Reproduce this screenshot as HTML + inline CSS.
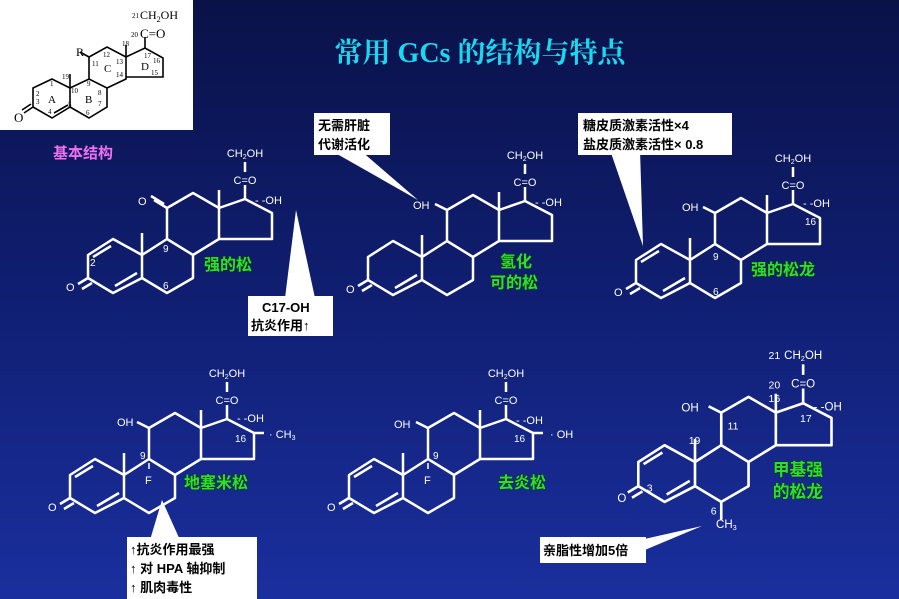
<!DOCTYPE html>
<html><head><meta charset="utf-8"><style>
html,body{margin:0;padding:0;width:899px;height:599px;overflow:hidden}
body{background:linear-gradient(#0a1248 0%,#0f1d6e 45%,#1a2f9e 100%);font-family:"Liberation Sans","Noto Sans CJK SC",sans-serif}
svg{position:absolute;left:0;top:0}
.w{fill:#fff;font-size:11px;font-family:"Liberation Sans",sans-serif}
.n{fill:#fff;font-size:10px;font-family:"Liberation Sans",sans-serif}
.g{fill:#2de030;font-size:16px;font-weight:bold;font-family:"Liberation Sans","Noto Sans CJK SC",sans-serif;paint-order:stroke;stroke:#0a3010;stroke-width:1px}
.bx{fill:#000;font-size:13px;font-weight:bold;font-family:"Liberation Sans","Noto Sans CJK SC",sans-serif}
.k{fill:#000;font-family:"Liberation Serif",serif}
</style></head><body>
<svg width="899" height="599" viewBox="0 0 899 599">
<defs>
<g id="sk" fill="none" stroke="#fff" stroke-width="2.5" stroke-linejoin="round">
<path d="M-29,-16 L-54,0 L-54,23 L-29,38 L0,23 L0,0 Z M0,0 L25,-16 L51,0 L51,23 L25,38 L0,23 M25,-16 L25,-47 L51,-62 L77,-47 L77,-16 L51,0 M77,-47 L103,-56 L130,-42 L130,-16 L77,-16 M0,0 L0,-22 M77,-47 L77,-65 M103,-56 L103,-70 M103,-83 L103,-93 M-54,23 L-64,29 M-50,28 L-60,34 M-27,31 L-5,18"/>
</g>
<g id="d1" fill="none" stroke="#fff" stroke-width="2.5"><path d="M-31,-9 L-49,2"/></g>
</defs>

<rect x="0" y="0" width="193" height="130" fill="#fff"/>
<g fill="none" stroke="#000" stroke-width="1.6">
<path d="M52,79 L33,88 L33,107 L52,118 L70,107 L70,88 Z M70,88 L89,79 L107,88 L107,107 L89,118 L70,107 M89,79 L89,57 L107,47 L126,57 L126,79 L107,88 M126,57 L145,48 L163,58 L163,77 L126,77 M126,57 L126,45 M70,88 L70,74 M145,48 L145,37 M89,57 L80,52 M33,107 L24,113 M31,104 L22,110 M54,113 L68,105"/>
</g>
<text class="k" x="76" y="56" font-size="12">R</text>
<text class="k" x="14" y="122" font-size="13">O</text>
<text class="k" x="140" y="19" font-size="12">CH<tspan font-size="8" dy="3">2</tspan><tspan dy="-3">OH</tspan></text>
<text class="k" x="132" y="18" font-size="7">21</text>
<text class="k" x="140" y="38" font-size="13">C=O</text>
<text class="k" x="131" y="37" font-size="7">20</text>
<g class="k" font-size="7"><text x="122" y="46">18</text><text x="103" y="57">12</text><text x="92" y="66">11</text><text x="116" y="64">13</text><text x="116" y="77">14</text><text x="144" y="58">17</text><text x="153" y="63">16</text><text x="151" y="75">15</text><text x="62" y="79">19</text><text x="71" y="93">10</text><text x="87" y="86">9</text><text x="98" y="95">8</text><text x="98" y="106">7</text><text x="86" y="115">6</text><text x="68" y="107">5</text><text x="48" y="114">4</text><text x="36" y="104">3</text><text x="36" y="96">2</text><text x="50" y="86">1</text></g>
<g class="k" font-size="11"><text x="48" y="103">A</text><text x="85" y="103">B</text><text x="104" y="72">C</text><text x="141" y="70">D</text></g>

<text x="53" y="158" font-size="15" font-weight="bold" fill="#f070f0" style="font-family:'Liberation Sans','Noto Sans CJK SC',sans-serif">基本结构</text>
<text x="480" y="62" text-anchor="middle" font-size="28" font-weight="bold" fill="#1ad8f0" style="font-family:'Liberation Serif','Noto Serif CJK SC',serif">常用 GCs 的结构与特点</text>

<g transform="translate(142,255)">
<use href="#sk"/><use href="#d1"/>
<path d="M25,-47 L12,-55 M22,-51 L9,-59" stroke="#fff" stroke-width="2.5" fill="none"/>
<text class="w" x="-4" y="-50">O</text>
<text class="w" x="-76" y="36">O</text>
<text class="w" x="103" y="-71" text-anchor="middle">C=O</text>
<text class="w" x="103" y="-98" text-anchor="middle">CH<tspan font-size="7" dy="2">2</tspan><tspan dy="-2">OH</tspan></text>
<text class="w" x="113" y="-51">- -OH</text>
<text class="n" x="21" y="-3">9</text><text class="n" x="-52" y="11">2</text><text class="n" x="21" y="34">6</text>
<text class="g" x="62" y="15">强的松</text>
</g>

<g transform="translate(422,257)">
<use href="#sk"/>
<path d="M25,-47 L13,-53" stroke="#fff" stroke-width="2.5"/>
<text class="w" x="-9" y="-48">OH</text>
<text class="w" x="-76" y="36">O</text>
<text class="w" x="103" y="-71" text-anchor="middle">C=O</text>
<text class="w" x="103" y="-98" text-anchor="middle">CH<tspan font-size="7" dy="2">2</tspan><tspan dy="-2">OH</tspan></text>
<text class="w" x="113" y="-51">- -OH</text>
<text class="g" x="78" y="10">氢化</text><text class="g" x="68" y="31">可的松</text>
</g>

<g transform="translate(690,260)">
<use href="#sk"/><use href="#d1"/>
<path d="M25,-47 L13,-53" stroke="#fff" stroke-width="2.5"/>
<text class="w" x="-8" y="-49">OH</text>
<text class="w" x="-76" y="36">O</text>
<text class="w" x="103" y="-71" text-anchor="middle">C=O</text>
<text class="w" x="103" y="-98" text-anchor="middle">CH<tspan font-size="7" dy="2">2</tspan><tspan dy="-2">OH</tspan></text>
<text class="w" x="113" y="-53">- -OH</text>
<text class="n" x="115" y="-35">16</text><text class="n" x="23" y="0">9</text><text class="n" x="23" y="35">6</text>
<text class="g" x="61" y="15">强的松龙</text>
</g>

<g transform="translate(124,475)">
<use href="#sk"/><use href="#d1"/>
<path d="M25,-47 L13,-53 M130,-42 L140,-42" stroke="#fff" stroke-width="2.5"/>
<path d="M25,-12 L25,-6" stroke="#fff" stroke-width="1.5"/>
<text class="w" x="-7" y="-49">OH</text>
<text class="w" x="-76" y="36">O</text>
<text class="w" x="103" y="-71" text-anchor="middle">C=O</text>
<text class="w" x="103" y="-98" text-anchor="middle">CH<tspan font-size="7" dy="2">2</tspan><tspan dy="-2">OH</tspan></text>
<text class="w" x="113" y="-53">- -OH</text>
<text class="w" x="145" y="-37">· CH<tspan font-size="7" dy="2">3</tspan></text>
<text class="n" x="111" y="-33">16</text><text class="n" x="16" y="-16">9</text><text class="w" x="21" y="9">F</text>
<text class="g" x="60" y="13">地塞米松</text>
</g>

<g transform="translate(403,475)">
<use href="#sk"/><use href="#d1"/>
<path d="M25,-47 L13,-53 M130,-42 L140,-42" stroke="#fff" stroke-width="2.5"/>
<path d="M25,-12 L25,-6" stroke="#fff" stroke-width="1.5"/>
<text class="w" x="-9" y="-47">OH</text>
<text class="w" x="-76" y="36">O</text>
<text class="w" x="103" y="-71" text-anchor="middle">C=O</text>
<text class="w" x="103" y="-98" text-anchor="middle">CH<tspan font-size="7" dy="2">2</tspan><tspan dy="-2">OH</tspan></text>
<text class="w" x="113" y="-51">- -OH</text>
<text class="w" x="147" y="-37">· OH</text>
<text class="n" x="111" y="-33">16</text><text class="n" x="30" y="-16">9</text><text class="w" x="21" y="9">F</text>
<text class="g" x="95" y="13">去炎松</text>
</g>

<g transform="translate(695,462) scale(1.05)">
<use href="#sk"/><use href="#d1"/>
<path d="M25,-47 L13,-53 M25,38 L25,55" stroke="#fff" stroke-width="2.5"/>
<text class="w" x="-13" y="-48">OH</text>
<text class="w" x="-74" y="38">O</text>
<text class="w" x="103" y="-71" text-anchor="middle">C=O</text>
<text class="w" x="103" y="-98" text-anchor="middle">CH<tspan font-size="7" dy="2">2</tspan><tspan dy="-2">OH</tspan></text>
<text class="w" x="113" y="-49">- -OH</text>
<text class="w" x="20" y="63">CH<tspan font-size="7" dy="2">3</tspan></text>
<text class="n" x="70" y="-98">21</text><text class="n" x="70" y="-70">20</text><text class="n" x="70" y="-57">16</text>
<text class="n" x="100" y="-38">17</text><text class="n" x="31" y="-31">11</text><text class="n" x="-6" y="-17">19</text>
<text class="n" x="-46" y="28">3</text><text class="n" x="15" y="50">6</text>
<text class="g" x="74" y="13">甲基强</text><text class="g" x="74" y="34">的松龙</text>
</g>

<g fill="#fff">
<polygon points="330,150 360,150 418,200"/>
<rect x="314" y="113" width="76" height="42"/>
<polygon points="610,150 640,150 643,246"/>
<rect x="578" y="113" width="154" height="42"/>
<polygon points="285,298 315,298 296,210"/>
<rect x="248" y="296" width="85" height="40"/>
<polygon points="150,540 180,540 162,500"/>
<rect x="127" y="537" width="130" height="62"/>
<polygon points="640,540 640,552 702,526"/>
<rect x="540" y="537" width="106" height="26"/>
</g>
<text class="bx" x="318" y="130">无需肝脏</text>
<text class="bx" x="318" y="149">代谢活化</text>
<text class="bx" x="583" y="130">糖皮质激素活性×4</text>
<text class="bx" x="583" y="149">盐皮质激素活性× 0.8</text>
<text class="bx" x="262" y="312" font-size="15">C17-OH</text>
<text class="bx" x="251" y="330">抗炎作用↑</text>
<text class="bx" x="130" y="554">↑抗炎作用最强</text>
<text class="bx" x="130" y="573">↑ 对 HPA 轴抑制</text>
<text class="bx" x="130" y="592">↑ 肌肉毒性</text>
<text class="bx" x="543" y="555">亲脂性增加5倍</text>
</svg>
</body></html>
